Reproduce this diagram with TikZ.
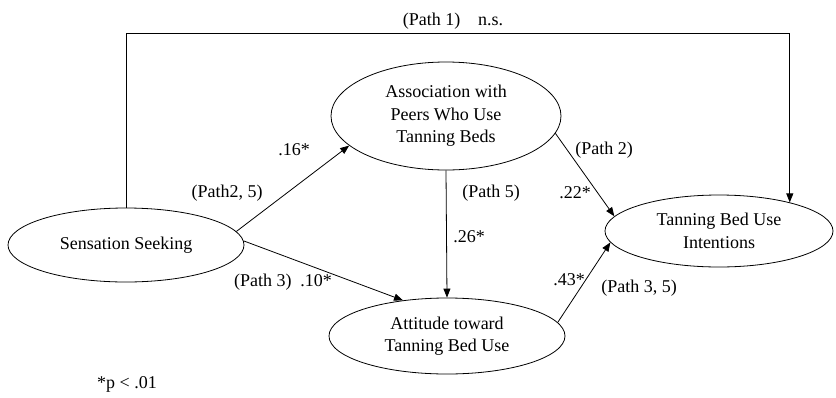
\documentclass[tikz,border=0pt]{standalone}
\usepackage{fontspec}
\setmainfont{Liberation Serif}
\usetikzlibrary{shapes.geometric,arrows.meta}
\tikzset{
  oval/.style={ellipse,draw,line width=0.8pt,inner sep=0pt,align=center,
    font=\fontsize{18}{22.5}\selectfont},
  lbl/.style={inner sep=0pt,font=\fontsize{18}{22.5}\selectfont},
  arr/.style={line width=0.8pt,-{Triangle[length=9pt,width=7pt]}}
}
\begin{document}
\begin{tikzpicture}[x=1pt,y=-1pt]
\useasboundingbox (0,0) rectangle (836,397);
\node[oval,minimum width=236pt,minimum height=74pt] (ss) at (126,245) {Sensation Seeking};
\node[oval,minimum width=230pt,minimum height=108pt] (as) at (446,116) {Association with\\Peers Who Use\\Tanning Beds};
\node[oval,minimum width=228pt,minimum height=72pt] (in) at (719,231) {Tanning Bed Use\\Intentions};
\node[oval,minimum width=236pt,minimum height=76pt] (at) at (447,336) {Attitude toward\\Tanning Bed Use};

\coordinate (tr) at (in.22.6 |- 0,33);
\draw[arr] (ss.north) |- (tr) -- (in.22.6);
\draw[arr] (ss.7) -- (as.197);
\draw[arr] (ss.2) -- (at.141);
\draw[arr] (as.-9) -- (in.172.5);
\draw[arr] (as.south) -- (at.north);
\draw[arr] (at.7) -- (in.186.5);

\node[lbl] (l1) at (453,21) {(Path 1)\quad n.s.};
\node[lbl] (l2) at (294,150) {.16*};
\node[lbl] (l3) at (227,193) {(Path2, 5)};
\node[lbl] (l4) at (604,150) {(Path 2)};
\node[lbl] (l5) at (575,193) {.22*};
\node[lbl] (l6) at (491,193) {(Path 5)};
\node[lbl] (l7) at (469,237) {.26*};
\node[lbl] (l8) at (283,282) {(Path 3)\enspace .10*};
\node[lbl] (l9) at (569,280) {.43*};
\node[lbl] (l10) at (639,288) {(Path 3, 5)};
\node[lbl] (l11) at (127,384) {*p {\textless} .01};
\end{tikzpicture}
\end{document}
